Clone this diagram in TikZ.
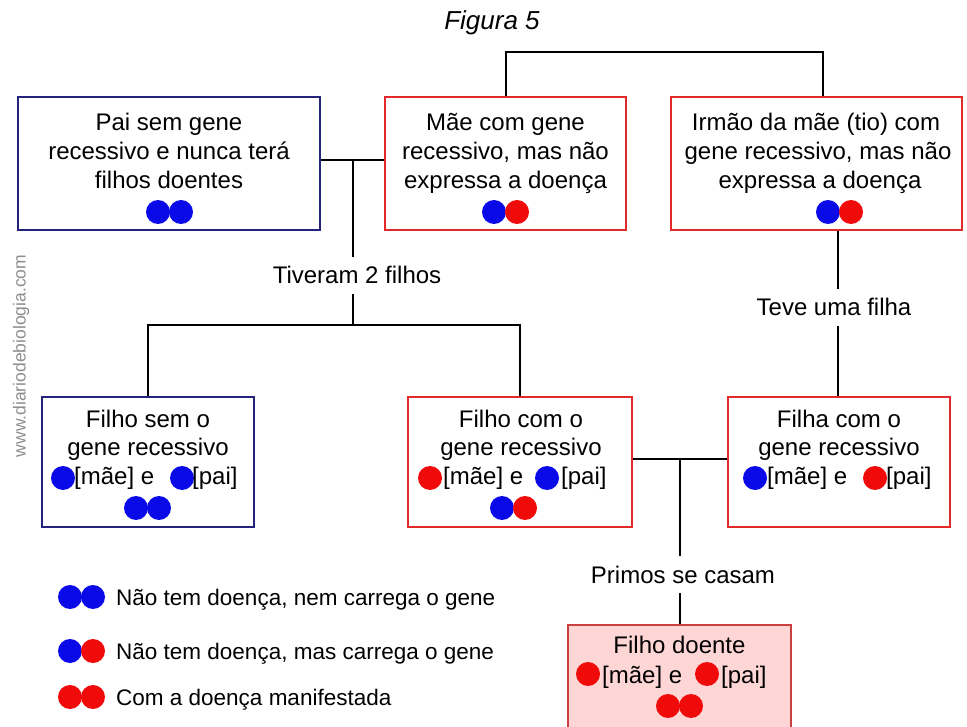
\documentclass[tikz,border=0pt]{standalone}
\usepackage{fontspec}
\setmainfont{Liberation Sans}
\definecolor{navyb}{HTML}{23237A}
\definecolor{boxred}{HTML}{E22A2A}
\definecolor{dred}{HTML}{CC3F3F}
\definecolor{pinkf}{HTML}{FFD6D6}
\definecolor{cb}{HTML}{0A0AE8}
\definecolor{cr}{HTML}{F00A0A}
\definecolor{wm}{HTML}{8E8E8E}
\begin{document}
\begin{tikzpicture}[x=1pt,y=-1pt,
 bbox/.style={draw=navyb,line width=2pt,fill=white,inner sep=0pt},
 rbox/.style={draw=boxred,line width=2pt,fill=white,inner sep=0pt},
 pbox/.style={draw=dred,line width=2pt,fill=pinkf,inner sep=0pt},
 txt/.style={font=\fontsize{24}{29}\selectfont,inner sep=0pt,anchor=base},
 rtxt/.style={font=\fontsize{24}{29}\selectfont,inner sep=0pt,anchor=base west},
 lbl/.style={font=\fontsize{24}{29}\selectfont,inner sep=0pt,outer ysep=10pt,anchor=base},
 leg/.style={font=\fontsize{22.5}{27}\selectfont,inner sep=0pt,anchor=base west},
 conn/.style={line width=2pt,black},
 bdot/.style={fill=cb},
 rdot/.style={fill=cr}
]
\fill[white] (0,0) rectangle (967,727);
\useasboundingbox (0,0) rectangle (967,727);

% title and watermark
\node[font=\fontsize{26}{30}\selectfont\itshape,inner sep=0pt,anchor=base] (title) at (492,30) {Figura 5};
\node[font=\fontsize{17.5}{20}\selectfont,text=wm,inner sep=0pt,rotate=90] (wmark) at (21,356) {www.diariodebiologia.com};

% boxes
\node[bbox,minimum width=302,minimum height=133] (pai) at (169,163.5) {};
\node[rbox,minimum width=241,minimum height=133] (mae) at (505.5,163.5) {};
\node[rbox,minimum width=291,minimum height=133] (irmao) at (816.5,163.5) {};
\node[bbox,minimum width=212,minimum height=130] (filhosem) at (148,462) {};
\node[rbox,minimum width=224,minimum height=130] (filhocom) at (520,462) {};
\node[rbox,minimum width=222,minimum height=130] (filha) at (839,462) {};
\node[pbox,minimum width=223,minimum height=106] (doente) at (679.5,678) {};

% Pai
\node[txt] (pai1) at (169,131) {Pai sem gene};
\node[txt] (pai2) at (169,160) {recessivo e nunca terá};
\node[txt] (pai3) at (169,189) {filhos doentes};
\fill[bdot] (158,212) circle[radius=12pt];
\fill[bdot] (181,212) circle[radius=12pt];

% Mae
\node[txt] (mae1) at (505.5,131) {Mãe com gene};
\node[txt] (mae2) at (505.5,160) {recessivo, mas não};
\node[txt] (mae3) at (505.5,189) {expressa a doença};
\fill[bdot] (494,212) circle[radius=12pt];
\fill[rdot] (517,212) circle[radius=12pt];

% Irmao
\node[txt] (irm1) at (816,131) {Irmão da mãe (tio) com};
\node[txt] (irm2) at (818,160) {gene recessivo, mas não};
\node[txt] (irm3) at (820,189) {expressa a doença};
\fill[bdot] (828,212) circle[radius=12pt];
\fill[rdot] (851,212) circle[radius=12pt];

% Filho sem
\node[txt] (fs1) at (148,427) {Filho sem o};
\node[txt] (fs2) at (148,455) {gene recessivo};
\fill[bdot] (63,478) circle[radius=12pt];
\node[rtxt] (fs3) at (74,484) {[mãe] e};
\fill[bdot] (182,478) circle[radius=12pt];
\node[rtxt] (fs4) at (192,484) {[pai]};
\fill[bdot] (136,508) circle[radius=12pt];
\fill[bdot] (159,508) circle[radius=12pt];

% Filho com
\node[txt] (fc1) at (521,427) {Filho com o};
\node[txt] (fc2) at (521,455) {gene recessivo};
\fill[rdot] (430,478) circle[radius=12pt];
\node[rtxt] (fc3) at (443,484) {[mãe] e};
\fill[bdot] (547,478) circle[radius=12pt];
\node[rtxt] (fc4) at (561,484) {[pai]};
\fill[bdot] (502,508) circle[radius=12pt];
\fill[rdot] (525,508) circle[radius=12pt];

% Filha
\node[txt] (fa1) at (839,427) {Filha com o};
\node[txt] (fa2) at (839,455) {gene recessivo};
\fill[bdot] (755,478) circle[radius=12pt];
\node[rtxt] (fa3) at (767,484) {[mãe] e};
\fill[rdot] (875,478) circle[radius=12pt];
\node[rtxt] (fa4) at (886,484) {[pai]};

% Filho doente
\node[txt] (fd1) at (679.5,653) {Filho doente};
\fill[rdot] (588,674) circle[radius=12pt];
\node[rtxt] (fd2) at (602,683) {[mãe] e};
\fill[rdot] (707,674) circle[radius=12pt];
\node[rtxt] (fd3) at (721,683) {[pai]};
\fill[rdot] (668,706) circle[radius=12pt];
\fill[rdot] (691,706) circle[radius=12pt];

% labels
\node[lbl] (tiveram) at (357,284) {Tiveram 2 filhos};
\node[lbl] (teve) at (834,316) {Teve uma filha};
\node[lbl] (primos) at (683,583) {Primos se casam};

% connectors
\coordinate (jt) at (823,52);
\draw[conn] (mae.north) |- (jt) -- (jt |- irmao.north);
\coordinate (j1) at (352.5,160.5);
\draw[conn] (pai.east |- j1) -- (mae.west |- j1);
\draw[conn] (j1) -- (j1 |- tiveram.north);
\coordinate (j2) at (352.5,325);
\draw[conn] (j1 |- tiveram.south) -- (j2);
\draw[conn] (filhosem.north) |- (j2) -| (filhocom.north);
\coordinate (jv) at (837.5,300);
\draw[conn] (irmao.south -| jv) -- (jv |- teve.north);
\draw[conn] (jv |- teve.south) -- (jv |- filha.north);
\coordinate (j3) at (680,459);
\draw[conn] (filhocom.east |- j3) -- (filha.west |- j3);
\draw[conn] (j3) -- (j3 |- primos.north);
\draw[conn] (j3 |- primos.south) -- (j3 |- doente.north);

% legend
\fill[bdot] (70,597) circle[radius=12pt];
\fill[bdot] (93,597) circle[radius=12pt];
\node[leg] (leg1) at (116,605) {Não tem doença, nem carrega o gene};
\fill[bdot] (70,651) circle[radius=12pt];
\fill[rdot] (93,651) circle[radius=12pt];
\node[leg] (leg2) at (116,659) {Não tem doença, mas carrega o gene};
\fill[rdot] (70,697) circle[radius=12pt];
\fill[rdot] (93,697) circle[radius=12pt];
\node[leg] (leg3) at (116,705) {Com a doença manifestada};
\end{tikzpicture}
\end{document}
